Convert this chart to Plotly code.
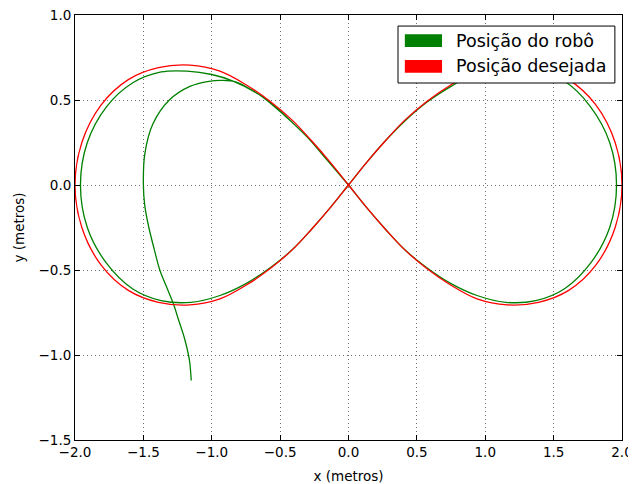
import plotly.graph_objects as go

# Desired trajectory (red)
des_x = [2.00, 1.95, 1.81, 1.61, 1.39, 1.16, 0.94, 0.75, 0.57, 0.41, 0.27, 0.13, 0.00,
         -0.13, -0.27, -0.41, -0.57, -0.75, -0.94, -1.16, -1.39, -1.61, -1.81, -1.95, -2.00,
         -1.95, -1.81, -1.61, -1.39, -1.16, -0.94, -0.75, -0.57, -0.41, -0.27, -0.13, 0.00,
         0.13, 0.27, 0.41, 0.57, 0.75, 0.94, 1.16, 1.39, 1.61, 1.81, 1.95, 2.00]
des_y = [0.00, 0.25, 0.47, 0.62, 0.69, 0.705, 0.67, 0.59, 0.49, 0.38, 0.26, 0.13, 0.00,
         -0.13, -0.26, -0.38, -0.49, -0.59, -0.67, -0.705, -0.69, -0.62, -0.47, -0.25, 0.00,
         0.25, 0.47, 0.62, 0.69, 0.705, 0.67, 0.59, 0.49, 0.38, 0.26, 0.13, 0.00,
         -0.13, -0.26, -0.38, -0.49, -0.59, -0.67, -0.705, -0.69, -0.62, -0.47, -0.25, 0.00]

# Robot trajectory (green)
rob_x = [-1.15, -1.16, -1.17, -1.20, -1.24, -1.28, -1.33, -1.38, -1.42, -1.46, -1.49, -1.50,
         -1.49, -1.43, -1.31, -1.16, -1.02, -0.92, -0.82, -0.71, -0.57, -0.42, -0.28, -0.14, 0.00,
         0.13, 0.27, 0.41, 0.57, 0.75, 0.94, 1.15, 1.37, 1.58, 1.77, 1.91, 1.96,
         1.91, 1.77, 1.58, 1.37, 1.15, 0.94, 0.75, 0.57, 0.41, 0.27, 0.13, 0.00,
         -0.13, -0.27, -0.41, -0.57, -0.75, -0.94, -1.15, -1.37, -1.58, -1.77, -1.91, -1.96,
         -1.91, -1.77, -1.58, -1.37, -1.18, -1.00, -0.84, -0.66, -0.47, -0.30, -0.15, 0.00]
rob_y = [-1.15, -1.05, -1.00, -0.90, -0.80, -0.70, -0.60, -0.50, -0.38, -0.25, -0.12, 0.00,
         0.18, 0.36, 0.50, 0.58, 0.61, 0.615, 0.605, 0.56, 0.485, 0.375, 0.265, 0.135, 0.00,
         -0.13, -0.26, -0.38, -0.485, -0.58, -0.65, -0.69, -0.68, -0.61, -0.46, -0.25, 0.00,
         0.25, 0.46, 0.61, 0.67, 0.685, 0.66, 0.58, 0.485, 0.375, 0.26, 0.13, 0.00,
         -0.13, -0.26, -0.38, -0.485, -0.58, -0.65, -0.69, -0.68, -0.61, -0.46, -0.25, 0.00,
         0.25, 0.46, 0.60, 0.665, 0.67, 0.65, 0.61, 0.535, 0.41, 0.28, 0.14, 0.00]

legend_names = ["Posição do robô", "Posição desejada"]
legend_colors = ["#008000", "#ff0000"]

x_ticks = [-2.0, -1.5, -1.0, -0.5, 0.0, 0.5, 1.0, 1.5, 2.0]
y_ticks = [-1.5, -1.0, -0.5, 0.0, 0.5, 1.0]

fig = go.Figure()
fig.add_trace(go.Scatter(x=rob_x, y=rob_y, mode="lines", line=dict(color=legend_colors[0], width=1.3, shape="spline", smoothing=1.0), showlegend=False))
fig.add_trace(go.Scatter(x=des_x, y=des_y, mode="lines", line=dict(color=legend_colors[1], width=1.3, shape="spline", smoothing=1.0), showlegend=False))

font = "DejaVu Sans"
axis_common = dict(showline=True, linecolor="black", linewidth=1, mirror="ticks",
                   ticks="inside", ticklen=5, tickcolor="black", tickwidth=1,
                   showgrid=True, gridcolor="#707070", griddash="1px,3px", gridwidth=1,
                   zeroline=False, tickformat=".1f", automargin=False, ticklabeloverflow="allow",
                   tickfont=dict(family=font, size=13.5, color="black"))

# page body has an 8px margin, so the figure is made 8px smaller and margins shifted
fig.update_layout(
    width=628, height=476,
    margin=dict(l=67, r=14, t=7, b=44, autoexpand=False),
    paper_bgcolor="white", plot_bgcolor="white",
    font=dict(family=font, size=13.5, color="black"),
    xaxis=dict(range=[-2, 2], tickvals=x_ticks, title=dict(text="x (metros)", standoff=12, font=dict(size=13.5)), **axis_common),
    yaxis=dict(range=[-1.5, 1.0], tickvals=y_ticks, title=dict(text="y (metros)", standoff=10, font=dict(size=13.5)), **axis_common),
)

# Legend box (matplotlib-style patches)
shapes = [dict(type="rect", xref="paper", yref="paper", x0=0.5905, x1=0.987, y0=0.840, y1=0.974,
               line=dict(color="black", width=1), fillcolor="white", layer="above")]
patch_y = [(0.925, 0.955), (0.864, 0.894)]
text_y = [0.939, 0.879]
annotations = []
for i in range(2):
    shapes.append(dict(type="rect", xref="paper", yref="paper", x0=0.603, x1=0.671,
                       y0=patch_y[i][0], y1=patch_y[i][1], line=dict(width=0),
                       fillcolor=legend_colors[i], layer="above"))
    annotations.append(dict(xref="paper", yref="paper", x=0.693, y=text_y[i], xanchor="left", yanchor="middle",
                            text=legend_names[i], showarrow=False, font=dict(family=font, size=17.5, color="black")))
fig.update_layout(shapes=shapes, annotations=annotations)

fig.write_html("out.html")
